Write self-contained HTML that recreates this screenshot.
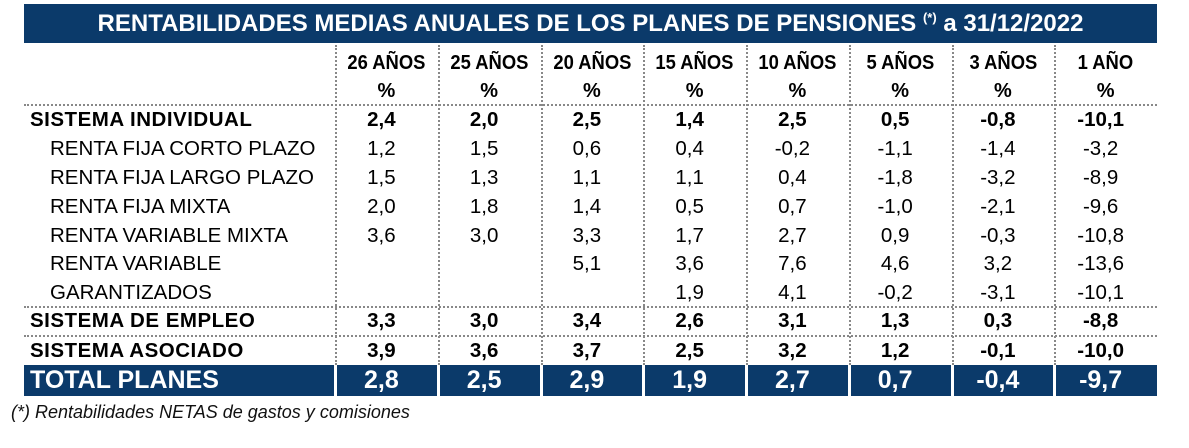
<!DOCTYPE html>
<html><head><meta charset="utf-8"><style>
body{margin:0;width:1189px;height:448px;background:#fff;position:relative;overflow:hidden;font-family:"Liberation Sans",sans-serif;}
.a{position:absolute;white-space:nowrap;line-height:1;}
</style></head><body>
<div class="a" style="left:24px;top:4px;width:1133px;height:39px;background:#0b3a6a;"></div>
<div class="a" style="left:24px;top:11px;width:1133px;text-align:center;color:#fff;font-weight:bold;font-size:24px;">RENTABILIDADES MEDIAS ANUALES DE LOS PLANES DE PENSIONES <sup style="font-size:13px">(*)</sup> a 31/12/2022</div>
<div id="t"></div>
<div class="a" style="left:11px;top:403px;font-size:18px;font-style:italic;color:#111;">(*) Rentabilidades NETAS de gastos y comisiones</div>
<script>
const headers=["26 AÑOS","25 AÑOS","20 AÑOS","15 AÑOS","10 AÑOS","5 AÑOS","3 AÑOS","1 AÑO"];
const rowLabels=["SISTEMA INDIVIDUAL","RENTA FIJA CORTO PLAZO","RENTA FIJA LARGO PLAZO","RENTA FIJA MIXTA","RENTA VARIABLE MIXTA","RENTA VARIABLE","GARANTIZADOS","SISTEMA DE EMPLEO","SISTEMA ASOCIADO","TOTAL PLANES"];
const rowValues=[
["2,4","2,0","2,5","1,4","2,5","0,5","-0,8","-10,1"],
["1,2","1,5","0,6","0,4","-0,2","-1,1","-1,4","-3,2"],
["1,5","1,3","1,1","1,1","0,4","-1,8","-3,2","-8,9"],
["2,0","1,8","1,4","0,5","0,7","-1,0","-2,1","-9,6"],
["3,6","3,0","3,3","1,7","2,7","0,9","-0,3","-10,8"],
["","","5,1","3,6","7,6","4,6","3,2","-13,6"],
["","","","1,9","4,1","-0,2","-3,1","-10,1"],
["3,3","3,0","3,4","2,6","3,1","1,3","0,3","-8,8"],
["3,9","3,6","3,7","2,5","3,2","1,2","-0,1","-10,0"],
["2,8","2,5","2,9","1,9","2,7","0,7","-0,4","-9,7"]];
const rowBold=[1,0,0,0,0,0,0,1,1,1];
const rowCenters=[121,150,179,208,237,265,294,322,352,382];
const T=document.getElementById('t');
const X0=335,CW=102.75,L=24,R=1157;
function add(html,style,name){const d=document.createElement('div');d.className='a';d.style.cssText=style;d.innerHTML=html;


T.appendChild(d);return d;}
for(let i=0;i<headers.length;i++){const x=X0+CW*i;
add('',`left:${x}px;top:45px;height:320px;border-left:2px dotted #888;`,'column-divider');}
[104,306,335].forEach(y=>add('',`left:${L}px;top:${y}px;width:${R-L}px;border-top:2px dotted #888;`,'row-divider'));
add('',`left:${L}px;top:365px;width:${R-L}px;height:31px;background:#0b3a6a;`,'total-row-bg');
for(let i=0;i<headers.length;i++){const x=X0+CW*i;
add('',`left:${x-1}px;top:365px;width:3px;height:31px;background:#fff;`,'total-separator');}
headers.forEach((h,i)=>{const x=X0+CW*i;
add(h,`left:${x}px;top:53px;width:${CW}px;text-align:center;font-weight:bold;font-size:20px;transform:scaleX(0.92);`,'column-header');
add('%',`left:${x}px;top:81px;width:${CW}px;text-align:center;font-weight:bold;font-size:20px;`,'column-unit');});
rowLabels.forEach((lab,r)=>{const y=rowCenters[r];const b=rowBold[r];const tot=r===rowLabels.length-1;
const fs=tot?25:20.5;const col=tot?'#fff':'#000';
add(lab,`left:${b?30:50}px;top:${y-fs*0.55}px;font-size:${fs}px;font-weight:${b?'bold':'normal'};color:${col};letter-spacing:${b&&!tot?'0.5px':'0'};`,'row-label');
rowValues[r].forEach((v,i)=>{const x=X0+CW*i;const vf=tot?25:20.5;
add(v,`left:${x}px;top:${y-vf*0.55}px;width:${CW-10}px;text-align:center;font-size:${vf}px;font-weight:${b?'bold':'normal'};color:${col};`,'cell-value');});});
</script>
</body></html>
